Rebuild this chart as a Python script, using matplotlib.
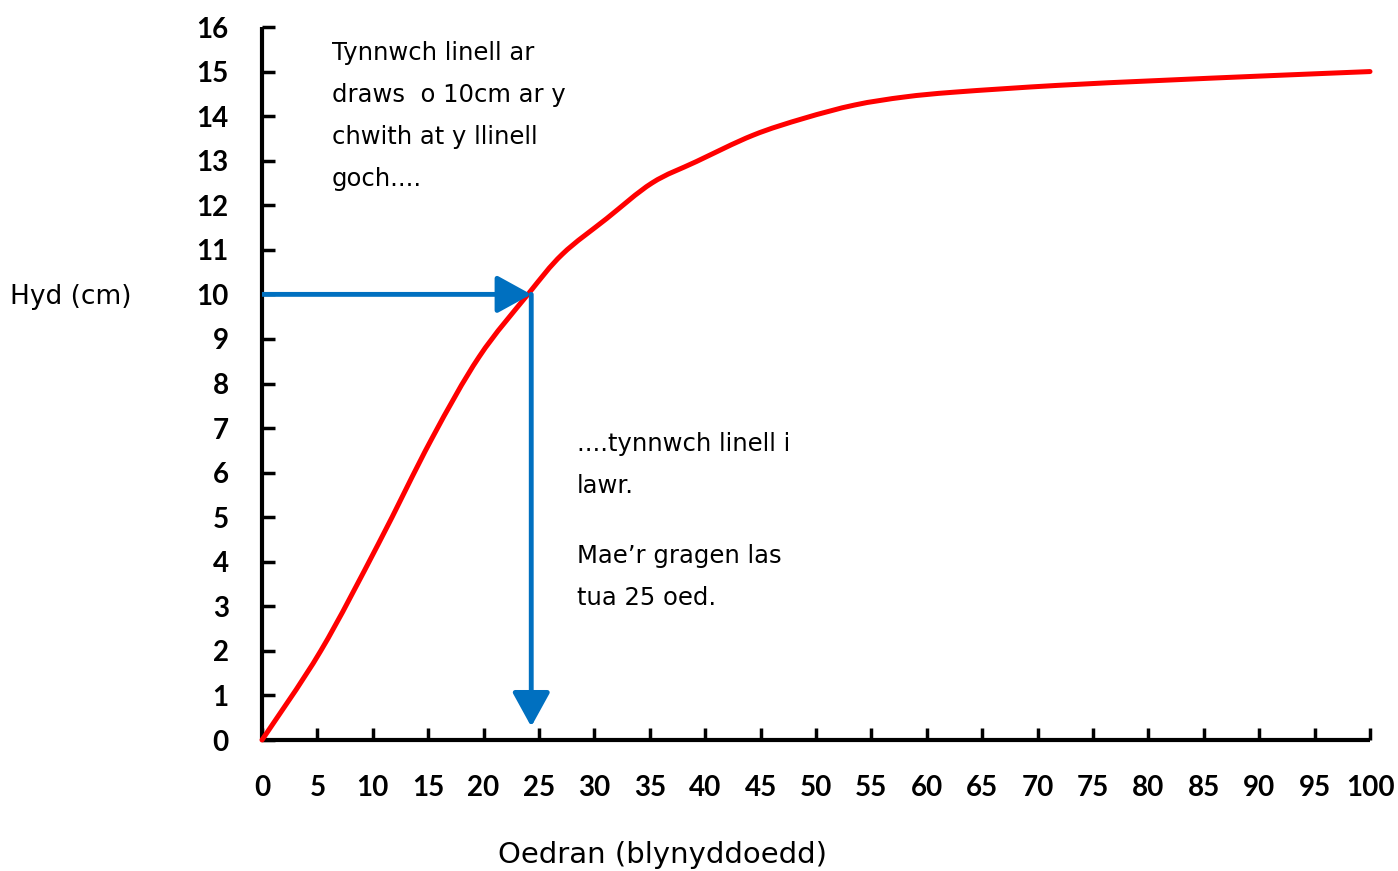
import numpy as np
import matplotlib.pyplot as plt
from matplotlib.patches import FancyArrowPatch, PathPatch
from matplotlib.path import Path

# Points (age in years, length in cm)
oedran = [0, 5.3, 10.5, 15.3, 19.6, 24.0, 27.1, 31.1,
          35.2, 39.2, 44.3, 48.9, 53.5, 58.0, 62.6, 71.8, 81.0, 90.2, 100]
hyd = [0, 2.0, 4.4, 6.75, 8.6, 10, 10.9, 11.7,
       12.5, 12.98, 13.57, 13.95, 14.25, 14.43, 14.54, 14.69, 14.8, 14.9, 15.0]

hyd_darllen = 10
oed_darllen = 24.3    # age where the line meets the curve

xticks = list(range(0, 101, 5))
yticks = list(range(0, 17))

testun_1 = "Tynnwch linell ar\ndraws  o 10cm ar y\nchwith at y llinell\ngoch...."
testun_2 = "....tynnwch linell i\nlawr."
testun_3 = "Mae\u2019r gragen las\ntua 25 oed."

glas = '#0070C0'


def llinell_esmwyth(xs, ys):
    # smoothed line through the points (like a spreadsheet "smooth line")
    p = np.column_stack([xs, ys]).astype(float)
    verts = [p[0]]
    codes = [Path.MOVETO]
    for i in range(len(p) - 1):
        p0 = p[i - 1] if i > 0 else p[i]
        p3 = p[i + 2] if i + 2 < len(p) else p[i + 1]
        c1 = p[i] + (p[i + 1] - p0) / 6
        c2 = p[i + 1] - (p3 - p[i]) / 6
        verts += [c1, c2, p[i + 1]]
        codes += [Path.CURVE4] * 3
    return Path(verts, codes)


fig = plt.figure(figsize=(13.98, 8.71), dpi=100)
ax = fig.add_axes([262/1398, 1 - 740/871, (1370 - 262)/1398, (740 - 27)/871])

cromlin = PathPatch(llinell_esmwyth(oedran, hyd), facecolor='none', edgecolor='red',
                    lw=3.6, capstyle='round', joinstyle='round', clip_on=False, zorder=3)
ax.add_patch(cromlin)

# Blue arrows
saeth1 = FancyArrowPatch((0, hyd_darllen), (oed_darllen, hyd_darllen),
                         arrowstyle='-|>,head_length=1.0,head_width=0.55',
                         mutation_scale=21, color=glas, lw=3.5,
                         shrinkA=0, shrinkB=0, zorder=4)
saeth2 = FancyArrowPatch((oed_darllen, hyd_darllen), (oed_darllen, 0.3),
                         arrowstyle='-|>,head_length=1.0,head_width=0.55',
                         mutation_scale=21, color=glas, lw=3.5,
                         shrinkA=0, shrinkB=0, zorder=4)
ax.add_patch(saeth1)
ax.add_patch(saeth2)

ax.set_xlim(0, 100)
ax.set_ylim(0, 16)
ax.set_xticks(xticks)
ax.set_yticks(yticks)

for s in ['top', 'right']:
    ax.spines[s].set_visible(False)
for s in ['left', 'bottom']:
    ax.spines[s].set_linewidth(3)
    ax.spines[s].set_capstyle('butt')

ax.tick_params(direction='in', length=9, width=2.5)
ax.tick_params(axis='x', pad=25)
ax.tick_params(axis='y', pad=24)
for lab in ax.get_xticklabels() + ax.get_yticklabels():
    lab.set_fontfamily('Lato')
    lab.set_fontweight('bold')
    lab.set_fontsize(20)

fig.text(10/1398, 1 - 297/871, "Hyd (cm)", fontsize=19, va='center', ha='left',
         family='DejaVu Sans')
fig.text(663/1398, 1 - 855/871, "Oedran (blynyddoedd)", fontsize=21, va='center',
         ha='center', family='DejaVu Sans')

fig.text(332/1398, 1 - 41/871, testun_1, fontsize=17.5, va='top', ha='left',
         linespacing=1.95, family='DejaVu Sans')
fig.text(577/1398, 1 - 432/871, testun_2, fontsize=17.5, va='top', ha='left',
         linespacing=1.95, family='DejaVu Sans')
fig.text(577/1398, 1 - 544/871, testun_3, fontsize=17.5, va='top', ha='left',
         linespacing=1.95, family='DejaVu Sans')

fig.savefig('out.png', dpi=100)
